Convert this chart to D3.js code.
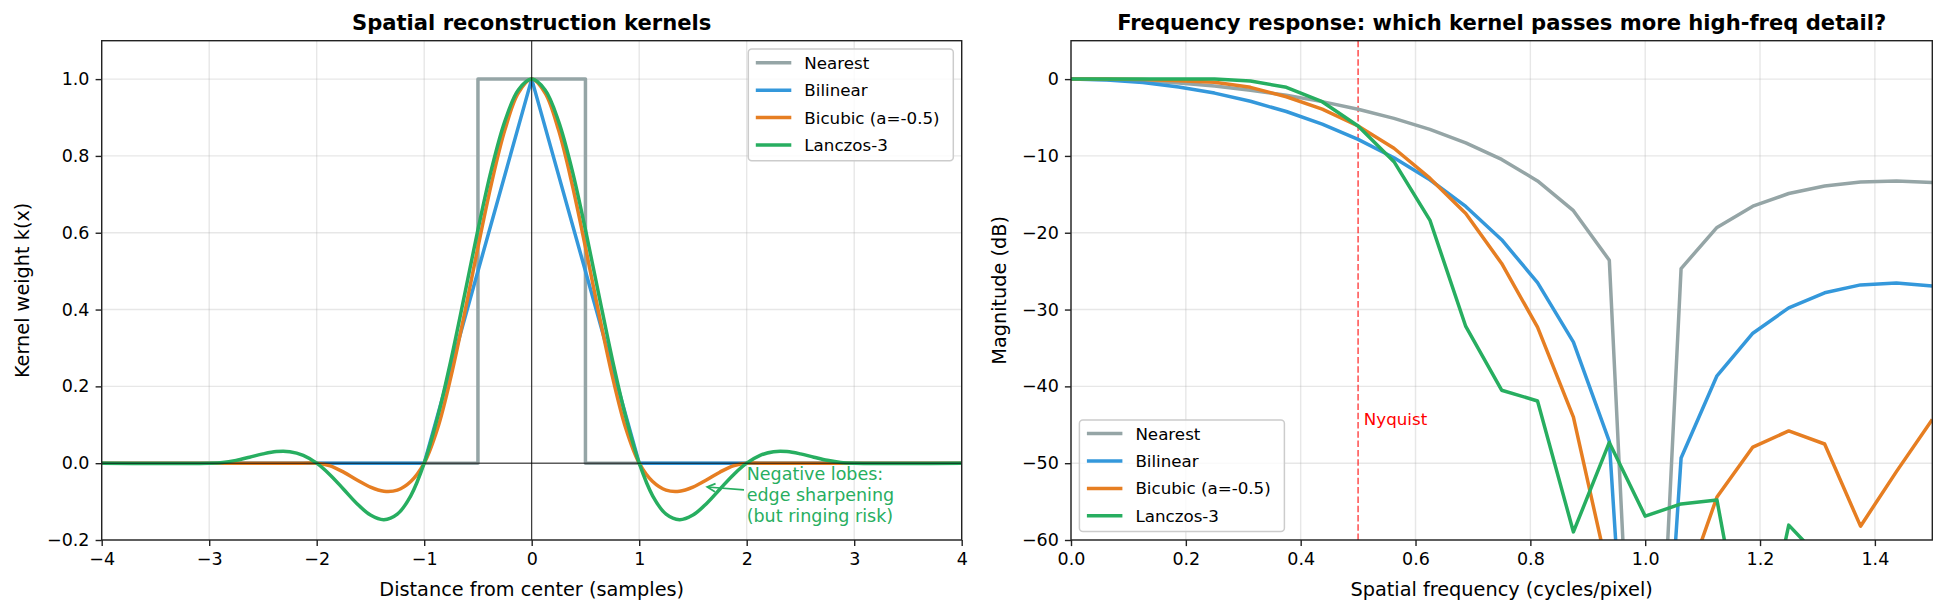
<!DOCTYPE html>
<html lang="en">
<head>
<meta charset="UTF-8">
<title>Reconstruction kernels</title>
<script src="https://d3js.org/d3.v7.min.js"></script>
<style>
    body { margin: 0; background: #fff; }
    text { font-family: "DejaVu Sans", sans-serif; }
</style>
</head>
<body>
<script>
// ---- data ----
const kernelNames = ["Nearest", "Bilinear", "Bicubic (a=-0.5)", "Lanczos-3"];
const kernelColors = ["#95a5a6", "#3498db", "#e67e22", "#27ae60"];

// left panel: kernel shapes
const nearestX = [-4, -0.5, -0.5, 0.5, 0.5, 4];
const nearestY = [0, 0, 1, 1, 0, 0];
const bilinearX = [-4, -1, 0, 1, 4];
const bilinearY = [0, 0, 1, 0, 0];
// smooth kernels sampled every 1/8 sample on [-3, 3], plus the ends at +-4
const smoothX = [-4].concat(d3.range(-24, 25).map(i => i / 8), [4]);
const bicubicY = [0,
    0, 0, 0, 0, 0, 0, 0, 0, 0, -0.0068, -0.0234, -0.0439, -0.0625, -0.0732, -0.0703, -0.0479,
    0, 0.0908, 0.2266, 0.3896, 0.5625, 0.7275, 0.8672, 0.9639, 1, 0.9639, 0.8672, 0.7275, 0.5625,
    0.3896, 0.2266, 0.0908, 0, -0.0479, -0.0703, -0.0732, -0.0625, -0.0439, -0.0234, -0.0068,
    0, 0, 0, 0, 0, 0, 0, 0, 0,
    0];
const lanczosY = [0,
    0, 0.0018, 0.0074, 0.0156, 0.0243, 0.0303, 0.0300, 0.0204, 0, -0.0306, -0.0678, -0.1054,
    -0.1351, -0.1473, -0.1329, -0.0849, 0, 0.1205, 0.2702, 0.4377, 0.6079, 0.7642, 0.8900, 0.9717,
    1, 0.9717, 0.8900, 0.7642, 0.6079, 0.4377, 0.2702, 0.1205, 0, -0.0849, -0.1329, -0.1473,
    -0.1351, -0.1054, -0.0678, -0.0306, 0, 0.0204, 0.0300, 0.0303, 0.0243, 0.0156, 0.0074, 0.0018, 0,
    0];

// right panel: frequency response (dB)
const freqs = [0, 0.0625, 0.125, 0.1875, 0.25, 0.3125, 0.375, 0.4375, 0.5, 0.5625, 0.625, 0.6875,
    0.75, 0.8125, 0.875, 0.9375, 1.0, 1.0625, 1.125, 1.1875, 1.25, 1.3125, 1.375, 1.4375, 1.5];
const nearestDb = [0, -0.06, -0.22, -0.51, -0.91, -1.44, -2.11, -2.93, -3.92, -5.11, -6.55, -8.29,
    -10.45, -13.25, -17.13, -23.58, -120, -24.66, -19.31, -16.54, -14.89, -13.91, -13.40, -13.26, -13.47];
const bilinearDb = [0, -0.11, -0.45, -1.02, -1.82, -2.89, -4.22, -5.86, -7.84, -10.23, -13.10, -16.58,
    -20.91, -26.49, -34.25, -47.16, -120, -49.33, -38.62, -33.08, -29.78, -27.82, -26.79, -26.53, -26.93];
const bicubicDb = [0, 0, -0.05, -0.2, -0.4, -1.07, -2.3, -3.9, -6.1, -9.0, -12.9, -17.5,
    -24.0, -32.3, -44.0, -64.9, -85, -67.7, -54.4, -47.9, -45.8, -47.5, -58.2, -51.1, -44.3];
const lanczosDb = [0, 0, 0.02, 0.03, 0.02, -0.25, -1.07, -2.94, -6.1, -10.75, -18.35, -32.2,
    -40.5, -41.9, -58.95, -47.3, -56.9, -55.3, -54.8, -80, -58.06, -63, -70, -75, -72];

const leftXTicks = [-4, -3, -2, -1, 0, 1, 2, 3, 4];
const leftYTicks = [-0.2, 0, 0.2, 0.4, 0.6, 0.8, 1.0];
const rightXTicks = [0, 0.2, 0.4, 0.6, 0.8, 1.0, 1.2, 1.4];
const rightYTicks = [-60, -50, -40, -30, -20, -10, 0];

// ---- layout ----
const W = 1945, H = 613;
const FS_TICK = 17.5, FS_LABEL = 19.3, FS_TITLE = 21.1, FS_LEG = 16.7;
const TICK_LEN = 6.1, TICK_PAD = 6.1;

const svg = d3.select("body").append("svg")
    .attr("width", W)
    .attr("height", H)
    .style("background", "#fff");

function makePanel(id, box, xDomain, yDomain, xTicks, yTicks, xFmt, yFmt, title, xLabel, yLabel, yLabelX) {
    const x = d3.scaleLinear().domain(xDomain).range([box.left, box.right]);
    const y = d3.scaleLinear().domain(yDomain).range([box.bottom, box.top]);
    const g = svg.append("g");

    svg.append("clipPath").attr("id", id)
        .append("rect")
        .attr("x", box.left).attr("y", box.top)
        .attr("width", box.right - box.left).attr("height", box.bottom - box.top);

    // grid
    const grid = g.append("g").attr("stroke", "#b0b0b0").attr("stroke-opacity", 0.3).attr("stroke-width", 1.4);
    grid.selectAll(".gx").data(xTicks).join("line")
        .attr("x1", d => x(d)).attr("x2", d => x(d))
        .attr("y1", box.top).attr("y2", box.bottom);
    grid.selectAll(".gy").data(yTicks).join("line")
        .attr("y1", d => y(d)).attr("y2", d => y(d))
        .attr("x1", box.left).attr("x2", box.right);

    const plot = g.append("g").attr("clip-path", `url(#${id})`);

    // axes
    const ax = g.append("g")
        .attr("transform", `translate(0,${box.bottom})`)
        .call(d3.axisBottom(x).tickValues(xTicks).tickFormat(xFmt).tickSize(TICK_LEN).tickPadding(TICK_PAD));
    const ay = g.append("g")
        .attr("transform", `translate(${box.left},0)`)
        .call(d3.axisLeft(y).tickValues(yTicks).tickFormat(yFmt).tickSize(TICK_LEN).tickPadding(TICK_PAD));
    [ax, ay].forEach(a => {
        a.select(".domain").remove();
        a.selectAll("line").attr("stroke", "#222").attr("stroke-width", 1.4);
        a.selectAll("text").attr("font-size", FS_TICK).attr("fill", "#000")
            .style("font-family", "DejaVu Sans");
    });

    const top = g.append("g");
    top.append("rect")
        .attr("x", box.left).attr("y", box.top)
        .attr("width", box.right - box.left).attr("height", box.bottom - box.top)
        .attr("fill", "none").attr("stroke", "#222").attr("stroke-width", 1.4);

    g.append("text")
        .attr("x", (box.left + box.right) / 2).attr("y", 29.5)
        .attr("text-anchor", "middle").attr("font-size", FS_TITLE).attr("font-weight", "bold")
        .text(title);
    g.append("text")
        .attr("x", (box.left + box.right) / 2).attr("y", 596)
        .attr("text-anchor", "middle").attr("font-size", FS_LABEL)
        .text(xLabel);
    g.append("text")
        .attr("transform", `translate(${yLabelX},${(box.top + box.bottom) / 2}) rotate(-90)`)
        .attr("text-anchor", "middle").attr("font-size", FS_LABEL)
        .text(yLabel);

    return { x, y, plot, top, g, box };
}

function drawLine(p, xs, ys, color, curve) {
    const pts = xs.map((d, i) => [d, ys[i]]);
    p.plot.append("path")
        .datum(pts)
        .attr("fill", "none")
        .attr("stroke", color)
        .attr("stroke-width", 3.5)
        .attr("stroke-linejoin", "round")
        .attr("d", d3.line().x(d => p.x(d[0])).y(d => p.y(d[1])).curve(curve || d3.curveLinear));
}

function legend(p, x0, y0) {
    const w = 205, h = 111.7;
    const lg = p.top.append("g");
    lg.append("rect")
        .attr("x", x0).attr("y", y0).attr("width", w).attr("height", h)
        .attr("rx", 3.5)
        .attr("fill", "#fff").attr("fill-opacity", 0.8)
        .attr("stroke", "#cccccc").attr("stroke-width", 1.5);
    kernelNames.forEach((name, i) => {
        const cy = y0 + 13.7 + i * 27.4;
        lg.append("line")
            .attr("x1", x0 + 7.5).attr("x2", x0 + 43)
            .attr("y1", cy).attr("y2", cy)
            .attr("stroke", kernelColors[i]).attr("stroke-width", 3.5);
        lg.append("text")
            .attr("x", x0 + 56).attr("y", cy + 6)
            .attr("font-size", FS_LEG)
            .text(name);
    });
}

// ---- left panel ----
const left = makePanel("clipL", { left: 101.7, right: 961.7, top: 40.7, bottom: 540 },
    [-4, 4], [-0.2, 1.1], leftXTicks, leftYTicks, d3.format("d"), d3.format(".1f"),
    "Spatial reconstruction kernels", "Distance from center (samples)", "Kernel weight k(x)", 29);

drawLine(left, nearestX, nearestY, kernelColors[0]);
drawLine(left, bilinearX, bilinearY, kernelColors[1]);
drawLine(left, smoothX, bicubicY, kernelColors[2], d3.curveCatmullRom.alpha(0.5));
drawLine(left, smoothX, lanczosY, kernelColors[3], d3.curveCatmullRom.alpha(0.5));

left.plot.append("line")
    .attr("x1", left.box.left).attr("x2", left.box.right)
    .attr("y1", left.y(0)).attr("y2", left.y(0))
    .attr("stroke", "#000").attr("stroke-width", 0.9);
left.plot.append("line")
    .attr("x1", left.x(0)).attr("x2", left.x(0))
    .attr("y1", left.box.top).attr("y2", left.box.bottom)
    .attr("stroke", "#000").attr("stroke-width", 0.9);

// annotation
const annoLines = ["Negative lobes:", "edge sharpening", "(but ringing risk)"];
const annoText = left.plot.append("text")
    .attr("font-size", FS_TICK).attr("fill", "#27ae60");
annoLines.forEach((t, i) => {
    annoText.append("tspan").attr("x", left.x(2.0)).attr("y", left.y(-0.0437) + i * 21).text(t);
});
const tip = [left.x(1.633), left.y(-0.062)];
const tail = [left.x(1.975), left.y(-0.0698)];
const ang = Math.atan2(tail[1] - tip[1], tail[0] - tip[0]);
const hl = 8, hw = 4;
const arrow = left.plot.append("g").attr("stroke", "#27ae60").attr("stroke-width", 1.75).attr("fill", "none");
arrow.append("line").attr("x1", tail[0]).attr("y1", tail[1]).attr("x2", tip[0]).attr("y2", tip[1]);
arrow.append("path").attr("d", d3.line()([
    [tip[0] + hl * Math.cos(ang) - hw * Math.sin(ang), tip[1] + hl * Math.sin(ang) + hw * Math.cos(ang)],
    tip,
    [tip[0] + hl * Math.cos(ang) + hw * Math.sin(ang), tip[1] + hl * Math.sin(ang) - hw * Math.cos(ang)]
]));

legend(left, 748.3, 49.1);

// ---- right panel ----
const right = makePanel("clipR", { left: 1071, right: 1932.3, top: 40.7, bottom: 540 },
    [0, 1.5], [-60, 5], rightXTicks, rightYTicks, d3.format(".1f"), d3.format("d"),
    "Frequency response: which kernel passes more high-freq detail?",
    "Spatial frequency (cycles/pixel)", "Magnitude (dB)", 1006);

// Nyquist marker
right.plot.append("line")
    .attr("x1", right.x(0.5)).attr("x2", right.x(0.5))
    .attr("y1", right.box.top).attr("y2", right.box.bottom)
    .attr("stroke", "red").attr("stroke-opacity", 0.6)
    .attr("stroke-width", 1.75).attr("stroke-dasharray", "6.5,2.8");

drawLine(right, freqs, nearestDb, kernelColors[0]);
drawLine(right, freqs, bilinearDb, kernelColors[1]);
drawLine(right, freqs, bicubicDb, kernelColors[2]);
drawLine(right, freqs, lanczosDb, kernelColors[3]);

right.plot.append("text")
    .attr("x", right.x(0.51)).attr("y", right.y(-45))
    .attr("font-size", FS_LEG).attr("fill", "red")
    .text("Nyquist");

legend(right, 1079.4, 419.9);
</script>
</body>
</html>
